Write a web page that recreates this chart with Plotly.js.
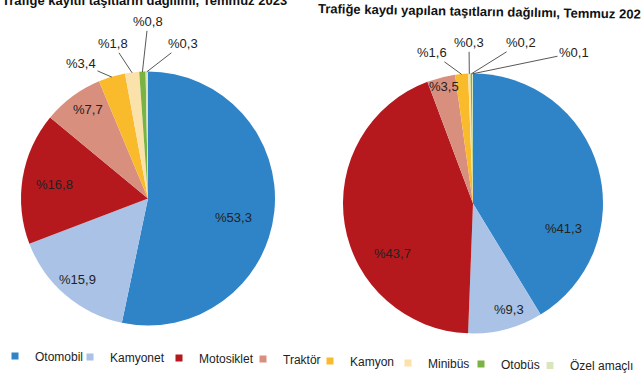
<!DOCTYPE html>
<html><head><meta charset="utf-8">
<script src="https://cdn.plot.ly/plotly-3.0.1.min.js"></script>
<style>html,body{margin:0;padding:0;background:#fff}</style>
</head><body><div id="chart" style="width:641px;height:380px"></div>
<script>
// ---- data ----
const categories = ['Otomobil','Kamyonet','Motosiklet','Traktör','Kamyon','Minibüs','Otobüs','Özel amaçlı'];
const registeredShares = [53.3, 15.9, 16.8, 7.7, 3.4, 1.8, 0.8, 0.3];
const newRegistrationShares = [41.3, 9.3, 43.7, 3.5, 1.6, 0.3, 0.2, 0.1];
const leftTitle = 'Trafiğe kayıtlı taşıtların dağılımı, Temmuz 2023';
const rightTitle = 'Trafiğe kaydı yapılan taşıtların dağılımı, Temmuz 2023';

// ---- style / layout (pixel positions, not data) ----
const W = 641, H = 380;
const colors = ['#2f84c8','#a9c2e6','#b6191d','#d98f7e','#f9bb2c','#fbe2ab','#7bb342','#d9e6bd'];
const FONT = 'Liberation Sans, Arial, sans-serif';
const leftBox = {x0: 21, x1: 275, y0: 70, y1: 328};
const rightBox = {x0: 343, x1: 603, y0: 73, y1: 335};
const leftLabelPos = [[233,218],[77,280],[54,185],[88,110],[81,64],[113,44],[148,22],[183,44]];
const rightLabelPos = [[563,229],[509,310],[392,254],[444,87],[432,53],[469,43],[521,43],[574,53]];
const leftLeader = [0,0,0,0,1,1,1,1];
const rightLeader = [0,0,0,0,1,1,1,1];
const legendX = [0, 70, 159, 243, 310, 388, 461, 530];
const legendIndent = [-5, 0, 0, 0, 0, 0, 0, 0];
const legendY = [356, 357, 358, 359, 361, 363, 364, 366];

function domainOf(b) {
  return {x: [b.x0 / W, b.x1 / W], y: [1 - b.y1 / H, 1 - b.y0 / H]};
}
function pie(values, box) {
  return {
    type: 'pie', labels: categories, values: values, sort: false,
    direction: 'clockwise', rotation: 0, domain: domainOf(box),
    marker: {colors: colors, line: {width: 0}},
    textinfo: 'none', showlegend: false, automargin: false, hoverinfo: 'label+value'
  };
}
function fmt(v) { return '%' + v.toFixed(1).replace('.', ','); }

function labelAnnotations(values, box, pos, leader) {
  const cx = (box.x0 + box.x1) / 2, cy = (box.y0 + box.y1) / 2;
  const r = Math.min(box.x1 - box.x0, box.y1 - box.y0) / 2;
  const total = values.reduce((a, b) => a + b, 0);
  let cum = 0;
  return values.map((v, i) => {
    const mid = (cum + v / 2) / total * 2 * Math.PI;
    cum += v;
    const base = {text: fmt(v), xref: 'paper', yref: 'paper',
      font: {family: FONT, size: 13, color: '#222'}};
    if (leader[i]) {
      const tx = cx + r * Math.sin(mid), ty = cy - r * Math.cos(mid);
      return Object.assign(base, {x: tx / W, y: 1 - ty / H,
        ax: pos[i][0] - tx, ay: pos[i][1] - ty, axref: 'pixel', ayref: 'pixel',
        showarrow: true, arrowhead: 0, arrowwidth: 0.9, arrowcolor: '#444', standoff: 0});
    }
    return Object.assign(base, {x: pos[i][0] / W, y: 1 - pos[i][1] / H,
      xanchor: 'center', yanchor: 'middle', showarrow: false});
  });
}

const traces = [pie(registeredShares, leftBox), pie(newRegistrationShares, rightBox)];
const layout = {
  width: W, height: H,
  margin: {l: 0, r: 0, t: 0, b: 0},
  paper_bgcolor: '#fff', plot_bgcolor: 'rgba(0,0,0,0)',
  font: {family: FONT, color: '#222'},
  xaxis: {visible: false, domain: [0, 0.01]},
  yaxis: {visible: false, domain: [0, 0.01]},
  showlegend: true,
  annotations: [
    {text: '<b>' + leftTitle + '</b>', xref: 'paper', yref: 'paper',
     x: 289 / W, xanchor: 'right', y: 1 - 1 / H, yanchor: 'middle',
     showarrow: false, font: {family: FONT, size: 13, color: '#111'}},
    {text: '<b>' + rightTitle + '</b>', xref: 'paper', yref: 'paper',
     x: 316 / W, xanchor: 'left', y: 1 - 12 / H, yanchor: 'middle',
     showarrow: false, textangle: 1, font: {family: FONT, size: 13, color: '#111'}}
  ].concat(labelAnnotations(registeredShares, leftBox, leftLabelPos, leftLeader))
   .concat(labelAnnotations(newRegistrationShares, rightBox, rightLabelPos, rightLeader))
};

categories.forEach((c, i) => {
  const key = i === 0 ? 'legend' : 'legend' + (i + 1);
  traces.push({
    type: 'scatter', mode: 'markers', x: [null], y: [null], name: c, legend: key,
    marker: {symbol: 'square', size: 7, color: colors[i]}, hoverinfo: 'skip'
  });
  layout[key] = {
    orientation: 'h', x: legendX[i] / W, xanchor: 'left', y: 1 - legendY[i] / H, yanchor: 'middle',
    font: {family: FONT, size: 12, color: '#222'}, bgcolor: 'rgba(0,0,0,0)', itemwidth: 30,
    indentation: legendIndent[i]
  };
});

Plotly.newPlot('chart', traces, layout, {staticPlot: true, displayModeBar: false});
</script></body></html>
